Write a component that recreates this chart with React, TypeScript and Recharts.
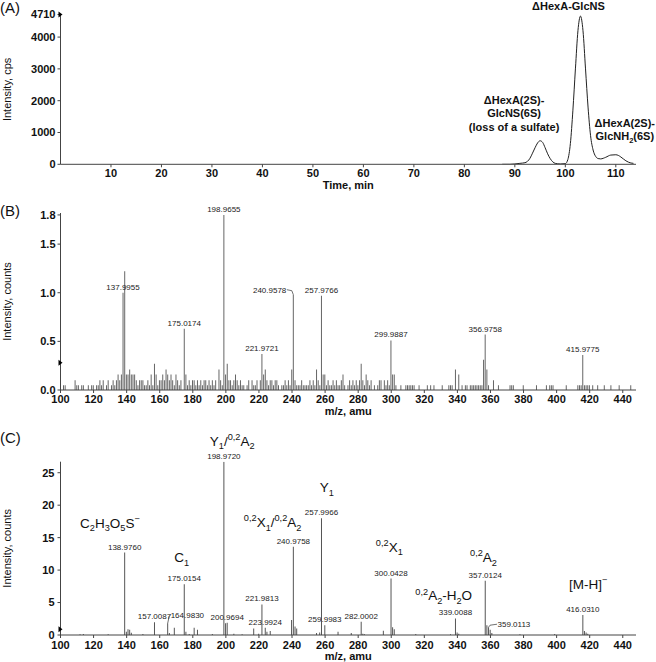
import React from "react";
import {
  LineChart,
  Line,
  BarChart,
  Bar,
  XAxis,
  YAxis,
  LabelList,
  ReferenceDot,
} from "recharts";

const FONT = "'Liberation Sans', Arial, Helvetica, sans-serif";

// (A) extracted ion chromatogram
const timeMin = [87.5, 89, 90, 91, 92, 93, 93.5, 94, 94.5, 95, 95.5, 96, 96.5, 97, 98, 99, 100, 100.5, 101, 101.5, 102, 102.5, 103, 103.5, 104, 104.5, 105, 105.5, 106, 106.5, 107, 108, 109, 110, 110.5, 111, 112, 113, 113.5];
const intensityCps = [0, 0, 10, 30, 50, 190, 350, 520, 670, 740, 690, 520, 330, 180, 30, 10, 20, 150, 650, 1700, 3000, 4200, 4660, 4200, 3000, 1800, 900, 450, 250, 180, 170, 220, 290, 300, 280, 230, 110, 40, 30];
const timeTicks = [10, 20, 30, 40, 50, 60, 70, 80, 90, 100, 110];
const cpsTicks = [0, 1000, 2000, 3000, 4000, 4710];
const peakTimes = [95, 103, 110];
const peakNames = [
  ["ΔHexA(2S)-", "GlcNS(6S)", "(loss of a sulfate)"],
  ["ΔHexA-GlcNS"],
  ["ΔHexA(2S)-", "GlcNH_{2}(6S)"],
];

// (B) MS/MS spectrum, labelled peaks and the rest
const bPeakMz = [137.9955, 175.0174, 198.9655, 221.9721, 240.9578, 257.9766, 299.9887, 356.9758, 415.9775];
const bPeakCounts = [1.0, 0.63, 1.8, 0.37, 0.98, 0.97, 0.51, 0.57, 0.36];
const bPeakLabels = ["137.9955", "175.0174", "198.9655", "221.9721", "240.9578", "257.9766", "299.9887", "356.9758", "415.9775"];
const bOtherMz = [102, 103, 109, 110, 111, 113, 114, 117, 119, 120, 122, 123, 124, 125, 126, 128, 129, 131, 132, 133, 134, 135, 136, 137, 139, 140, 141, 142, 143, 144, 145, 146, 147, 148, 149, 150, 151, 152, 153, 154, 155, 156, 157, 158, 159, 160, 161, 162, 163, 164, 165, 166, 167, 168, 169, 170, 171, 172, 173, 176, 177, 178, 179, 180, 181, 182, 183, 184, 185, 186, 187, 188, 189, 190, 191, 192, 193, 194, 196, 197, 198, 200, 201, 202, 203, 204, 205, 206, 207, 208, 209, 210, 211, 213, 214, 216, 217, 218, 219, 221, 223, 224, 225, 226, 227, 228, 229, 230, 231, 232, 234, 235, 236, 237, 238, 239, 240, 242, 243, 244, 245, 246, 247, 248, 249, 250, 251, 252, 253, 254, 255, 256, 257, 259, 260, 261, 262, 263, 264, 265, 266, 267, 268, 269, 270, 271, 272, 274, 275, 276, 277, 278, 279, 280, 281, 282, 283, 284, 285, 286, 287, 288, 290, 292, 293, 294, 296, 297, 298, 299, 301, 302, 303, 306, 309, 310, 311, 312, 313, 314, 317, 322, 324, 326, 331, 335, 336, 337, 339, 341, 343, 345, 346, 348, 349, 350, 351, 352, 353, 354, 355, 356, 358, 359, 362, 365, 372, 373, 374, 380, 388, 394, 396, 397, 398, 406, 413, 414, 415, 417, 418, 419, 420, 422, 425, 429, 433, 438, 445];
const bOtherCounts = [0.05, 0.05, 0.1, 0.05, 0.05, 0.05, 0.05, 0.05, 0.05, 0.05, 0.05, 0.05, 0.1, 0.05, 0.1, 0.05, 0.1, 0.05, 0.1, 0.05, 0.1, 0.16, 0.1, 0.16, 1.22, 0.16, 0.16, 0.21, 0.16, 0.16, 0.16, 0.1, 0.05, 0.1, 0.1, 0.1, 0.05, 0.05, 0.1, 0.05, 0.16, 0.05, 0.27, 0.16, 0.05, 0.1, 0.1, 0.16, 0.1, 0.21, 0.16, 0.1, 0.16, 0.1, 0.05, 0.16, 0.1, 0.05, 0.1, 0.16, 0.05, 0.1, 0.05, 0.1, 0.1, 0.05, 0.1, 0.05, 0.1, 0.05, 0.1, 0.1, 0.05, 0.1, 0.05, 0.1, 0.05, 0.1, 0.21, 0.1, 0.05, 0.16, 0.27, 0.1, 0.1, 0.05, 0.1, 0.16, 0.1, 0.05, 0.1, 0.05, 0.05, 0.05, 0.1, 0.1, 0.05, 0.05, 0.1, 0.1, 0.16, 0.21, 0.1, 0.05, 0.1, 0.1, 0.05, 0.1, 0.1, 0.05, 0.05, 0.05, 0.1, 0.05, 0.1, 0.05, 0.21, 0.1, 0.05, 0.05, 0.05, 0.1, 0.05, 0.05, 0.05, 0.05, 0.1, 0.05, 0.1, 0.05, 0.21, 0.1, 0.05, 0.16, 0.16, 0.05, 0.1, 0.05, 0.05, 0.1, 0.05, 0.1, 0.05, 0.05, 0.1, 0.16, 0.05, 0.05, 0.1, 0.05, 0.1, 0.05, 0.1, 0.05, 0.1, 0.27, 0.1, 0.05, 0.16, 0.1, 0.05, 0.1, 0.05, 0.05, 0.1, 0.1, 0.1, 0.05, 0.1, 0.05, 0.16, 0.16, 0.05, 0.05, 0.05, 0.05, 0.05, 0.05, 0.05, 0.05, 0.05, 0.05, 0.05, 0.05, 0.05, 0.05, 0.05, 0.05, 0.21, 0.16, 0.05, 0.05, 0.05, 0.05, 0.05, 0.05, 0.05, 0.05, 0.05, 0.05, 0.05, 0.31, 0.21, 0.05, 0.1, 0.05, 0.05, 0.05, 0.05, 0.05, 0.05, 0.05, 0.05, 0.05, 0.05, 0.05, 0.05, 0.05, 0.05, 0.05, 0.05, 0.05, 0.05, 0.05, 0.05, 0.05, 0.05, 0.05, 0.05];
const bCountTicks = [0, 0.5, 1.0, 1.5, 1.8];

// (C) MS/MS spectrum
const cPeakMz = [138.976, 157.0087, 164.983, 175.0154, 198.972, 200.9694, 221.9813, 223.9924, 240.9758, 257.9966, 259.9983, 282.0002, 300.0428, 339.0088, 357.0124, 359.0113, 416.031];
const cPeakCounts = [12.7, 1.95, 1.8, 7.8, 26.7, 1.9, 4.7, 1.1, 13.6, 18.0, 1.5, 2.05, 8.7, 2.55, 8.35, 1.2, 3.1];
const cPeakLabels = ["138.9760", "157.0087", "164.9830", "175.0154", "198.9720", "200.9694", "221.9813", "223.9924", "240.9758", "257.9966", "259.9983", "282.0002", "300.0428", "339.0088", "357.0124", "359.0113", "416.0310"];
const cOtherMz = [112, 114, 129, 140, 141, 142, 143, 150, 166, 169, 176, 178, 181, 183, 192, 200, 205, 210, 217, 220, 225, 227, 239.9, 242, 243, 255, 256.9, 268, 276, 283, 284, 295.4, 301, 302, 315, 336, 340, 341, 358, 360, 361, 378, 399, 417, 418, 419];
const cOtherCounts = [0.1, 0.15, 0.1, 0.5, 0.9, 0.8, 0.35, 0.15, 0.3, 1.1, 0.5, 0.15, 1.1, 0.8, 0.15, 1.8, 0.2, 0.1, 1.0, 0.2, 0.5, 0.6, 2.3, 1.3, 1.0, 0.3, 0.4, 0.5, 0.3, 0.2, 0.1, 0.66, 1.2, 0.9, 0.15, 0.1, 0.4, 0.2, 1.5, 0.8, 0.3, 0.1, 0.15, 0.6, 0.4, 0.2];
const cCountTicks = [0, 5, 10, 15, 20, 25];
const cIonMz = [138.976, 175.0154, 198.972, 240.9758, 257.9966, 300.0428, 339.0088, 357.0124, 416.031];
const cIonNames = ["C_{2}H_{3}O_{5}S^{−}", "C_{1}", "Y_{1}/^{0,2}A_{2}", "^{0,2}X_{1}/^{0,2}A_{2}", "Y_{1}", "^{0,2}X_{1}", "^{0,2}A_{2}-H_{2}O", "^{0,2}A_{2}", "[M-H]^{−}"];

const mzTicks = [100, 120, 140, 160, 180, 200, 220, 240, 260, 280, 300, 320, 340, 360, 380, 400, 420, 440];

// label placement (pixels)
const noteOffsets = [[-26, -37], [-12, -6], [9, -28]];
const ionOffsets = [[-15, -25], [-3, -22], [8, -16], [-21, -20], [5, -26], [-2, -27], [-12, -18], [-2, -19], [5, -26]];
const leaders: Record<string, { side: number; gap: number; dy: number }> = {
  "240.9578": { side: -1, gap: 7, dy: -2 },
  "164.9830": { side: 1, gap: 3, dy: -5 },
  "359.0113": { side: 1, gap: 9, dy: 0 },
};

const chromData = timeMin.map((t, i) => ({ t, cps: intensityCps[i] }));

const sticks = (pm: number[], pc: number[], pl: string[], om: number[], oc: number[]) =>
  [
    ...pm.map((mz, i) => ({ mz, counts: pc[i], label: pl[i] })),
    ...om.map((mz, i) => ({ mz, counts: oc[i], label: "" })),
  ].sort((a, b) => a.mz - b.mz);

const bData = sticks(bPeakMz, bPeakCounts, bPeakLabels, bOtherMz, bOtherCounts);
const cData = sticks(cPeakMz, cPeakCounts, cPeakLabels, cOtherMz, cOtherCounts);

// text with _{sub} and ^{sup}
function Rich({ x, y, src, size, weight, anchor = "middle" }: any) {
  const parts = src.split(/(\^\{[^}]*\}|_\{[^}]*\})/).filter(Boolean);
  let cur = 0;
  return (
    <text x={x} y={y} fontSize={size} fontWeight={weight} textAnchor={anchor} fill="#111" fontFamily={FONT}>
      {parts.map((p: string, i: number) => {
        let shift = 0;
        let txt = p;
        let fs = size;
        if (p.startsWith("^{")) {
          shift = -size * 0.42;
          txt = p.slice(2, -1);
          fs = size * 0.68;
        } else if (p.startsWith("_{")) {
          shift = size * 0.28;
          txt = p.slice(2, -1);
          fs = size * 0.68;
        }
        const dy = shift - cur;
        cur = shift;
        return (
          <tspan key={i} dy={dy} fontSize={fs}>
            {txt}
          </tspan>
        );
      })}
    </text>
  );
}

function MassLabel(props: any) {
  const vb = props.viewBox || props;
  const value = props.value;
  if (!value) return null;
  const cx = Number(vb.x) + Number(vb.width) / 2;
  const top = Number(vb.y);
  const lead = leaders[value];
  if (!lead) {
    return (
      <text x={cx} y={top - 3} textAnchor="middle" fontSize={8} fill="#222" fontFamily={FONT}>
        {value}
      </text>
    );
  }
  const tx = cx + lead.side * lead.gap;
  return (
    <g>
      <polyline
        points={`${cx},${top} ${cx + lead.side * 1.5},${top + lead.dy - 2} ${tx - lead.side * 0.5},${top + lead.dy - 3}`}
        fill="none"
        stroke="#333"
        strokeWidth={0.7}
      />
      <text x={tx} y={top + lead.dy} textAnchor={lead.side > 0 ? "start" : "end"} fontSize={8} fill="#222" fontFamily={FONT}>
        {value}
      </text>
    </g>
  );
}

const tri = (p: any) => (
  <path d={`M${p.cx - 2},${p.cy - 3} L${p.cx + 2},${p.cy} L${p.cx - 2},${p.cy + 3} Z`} fill="#000" />
);

const yTitle = (text: string) => (p: any) => {
  const vb = p.viewBox || { x: 0, y: 0, height: 0 };
  const x = vb.x + 10.5;
  const y = vb.y + vb.height / 2;
  return (
    <text x={x} y={y} transform={`rotate(-90, ${x}, ${y})`} textAnchor="middle" fontSize={11} fill="#111" fontFamily={FONT}>
      {text}
    </text>
  );
};

const xTitle = (text: string, off: number) => (p: any) => {
  const vb = p.viewBox || { x: 0, y: 0, width: 0, height: 0 };
  return (
    <text x={vb.x + vb.width / 2} y={vb.y + vb.height - off} textAnchor="middle" fontSize={11} fontWeight="bold" fill="#111" fontFamily={FONT}>
      {text}
    </text>
  );
};

const tickStyle = { fontSize: 11, fontWeight: "bold", fill: "#111", fontFamily: FONT };
const axisColor = "#444";

const Letter = ({ top, text }: any) => (
  <div style={{ position: "absolute", left: 0, top, fontSize: 15, lineHeight: "15px", fontFamily: FONT, color: "#111" }}>
    {text}
  </div>
);

export default function App() {
  return (
    <div style={{ position: "absolute", left: 0, top: 0, width: 656, height: 662, background: "#fff", overflow: "hidden" }}>
      <Letter top={0} text="(A)" />
      <Letter top={203} text="(B)" />
      <Letter top={430} text="(C)" />

      <div style={{ position: "absolute", left: 0, top: 0 }}>
        <LineChart width={656} height={200} data={chromData} margin={{ top: 14.5, right: 20, bottom: 5.7, left: 0.5 }}>
          <XAxis
            dataKey="t"
            type="number"
            domain={[0, 114]}
            allowDataOverflow
            ticks={timeTicks}
            tick={tickStyle}
            tickSize={3}
            tickMargin={2}
            height={30}
            stroke={axisColor}
            label={{ content: xTitle("Time, min", 5) }}
          />
          <YAxis
            type="number"
            domain={[0, 4710]}
            allowDataOverflow
            ticks={cpsTicks}
            tick={tickStyle}
            tickSize={3}
            tickMargin={2}
            width={60}
            stroke={axisColor}
            label={{ content: yTitle("Intensity, cps") }}
          />
          <Line type="monotone" dataKey="cps" stroke="#222" strokeWidth={1} dot={false} isAnimationActive={false} />
          <ReferenceDot x={0} y={4710} r={3} shape={tri} />
          {peakTimes.map((t, i) => (
            <ReferenceDot
              key={t}
              x={t}
              y={intensityCps[timeMin.indexOf(t)]}
              r={1}
              shape={(p: any) => (
                <g>
                  {peakNames[i].map((line, j) => (
                    <Rich
                      key={j}
                      x={p.cx + noteOffsets[i][0]}
                      y={p.cy + noteOffsets[i][1] + j * 13.5}
                      src={line}
                      size={11}
                      weight="bold"
                    />
                  ))}
                </g>
              )}
            />
          ))}
        </LineChart>
      </div>

      <div style={{ position: "absolute", left: 0, top: 200 }}>
        <BarChart width={656} height={225} data={bData} margin={{ top: 13, right: 20, bottom: 5, left: 0.5 }}>
          <XAxis
            dataKey="mz"
            type="number"
            domain={[100, 448]}
            allowDataOverflow
            ticks={mzTicks}
            tick={tickStyle}
            tickSize={3}
            tickMargin={2}
            height={30}
            stroke={axisColor}
            label={{ content: xTitle("m/z, amu", 5) }}
          />
          <YAxis
            type="number"
            domain={[0, 1.82]}
            allowDataOverflow
            ticks={bCountTicks}
            tickFormatter={(v: number) => v.toFixed(1)}
            tick={tickStyle}
            tickSize={3}
            tickMargin={2}
            width={60}
            stroke={axisColor}
            label={{ content: yTitle("Intensity, counts") }}
          />
          <Bar dataKey="counts" fill="#666" barSize={1} isAnimationActive={false}>
            <LabelList dataKey="label" content={MassLabel} />
          </Bar>
          <ReferenceDot x={100} y={0.28} r={3} shape={tri} />
        </BarChart>
      </div>

      <div style={{ position: "absolute", left: 0, top: 425 }}>
        <BarChart width={656} height={237} data={cData} margin={{ top: 36.7, right: 20, bottom: 0, left: 0.5 }}>
          <XAxis
            dataKey="mz"
            type="number"
            domain={[100, 448]}
            allowDataOverflow
            ticks={mzTicks}
            tick={tickStyle}
            tickSize={3}
            tickMargin={3}
            height={27}
            stroke={axisColor}
            label={{ content: xTitle("m/z, amu", 2) }}
          />
          <YAxis
            type="number"
            domain={[0, 26.7]}
            allowDataOverflow
            ticks={cCountTicks}
            tick={tickStyle}
            tickSize={3}
            tickMargin={3}
            width={60}
            stroke={axisColor}
            label={{ content: yTitle("Intensity, counts") }}
          />
          <Bar dataKey="counts" fill="#555" barSize={1} isAnimationActive={false}>
            <LabelList dataKey="label" content={MassLabel} />
          </Bar>
          <ReferenceDot x={100} y={0.9} r={3} shape={tri} />
          {cIonMz.map((mz, i) => (
            <ReferenceDot
              key={mz}
              x={mz}
              y={cPeakCounts[cPeakMz.indexOf(mz)]}
              r={1}
              shape={(p: any) => (
                <Rich x={p.cx + ionOffsets[i][0]} y={p.cy + ionOffsets[i][1]} src={cIonNames[i]} size={13.5} weight="normal" />
              )}
            />
          ))}
        </BarChart>
      </div>
    </div>
  );
}
